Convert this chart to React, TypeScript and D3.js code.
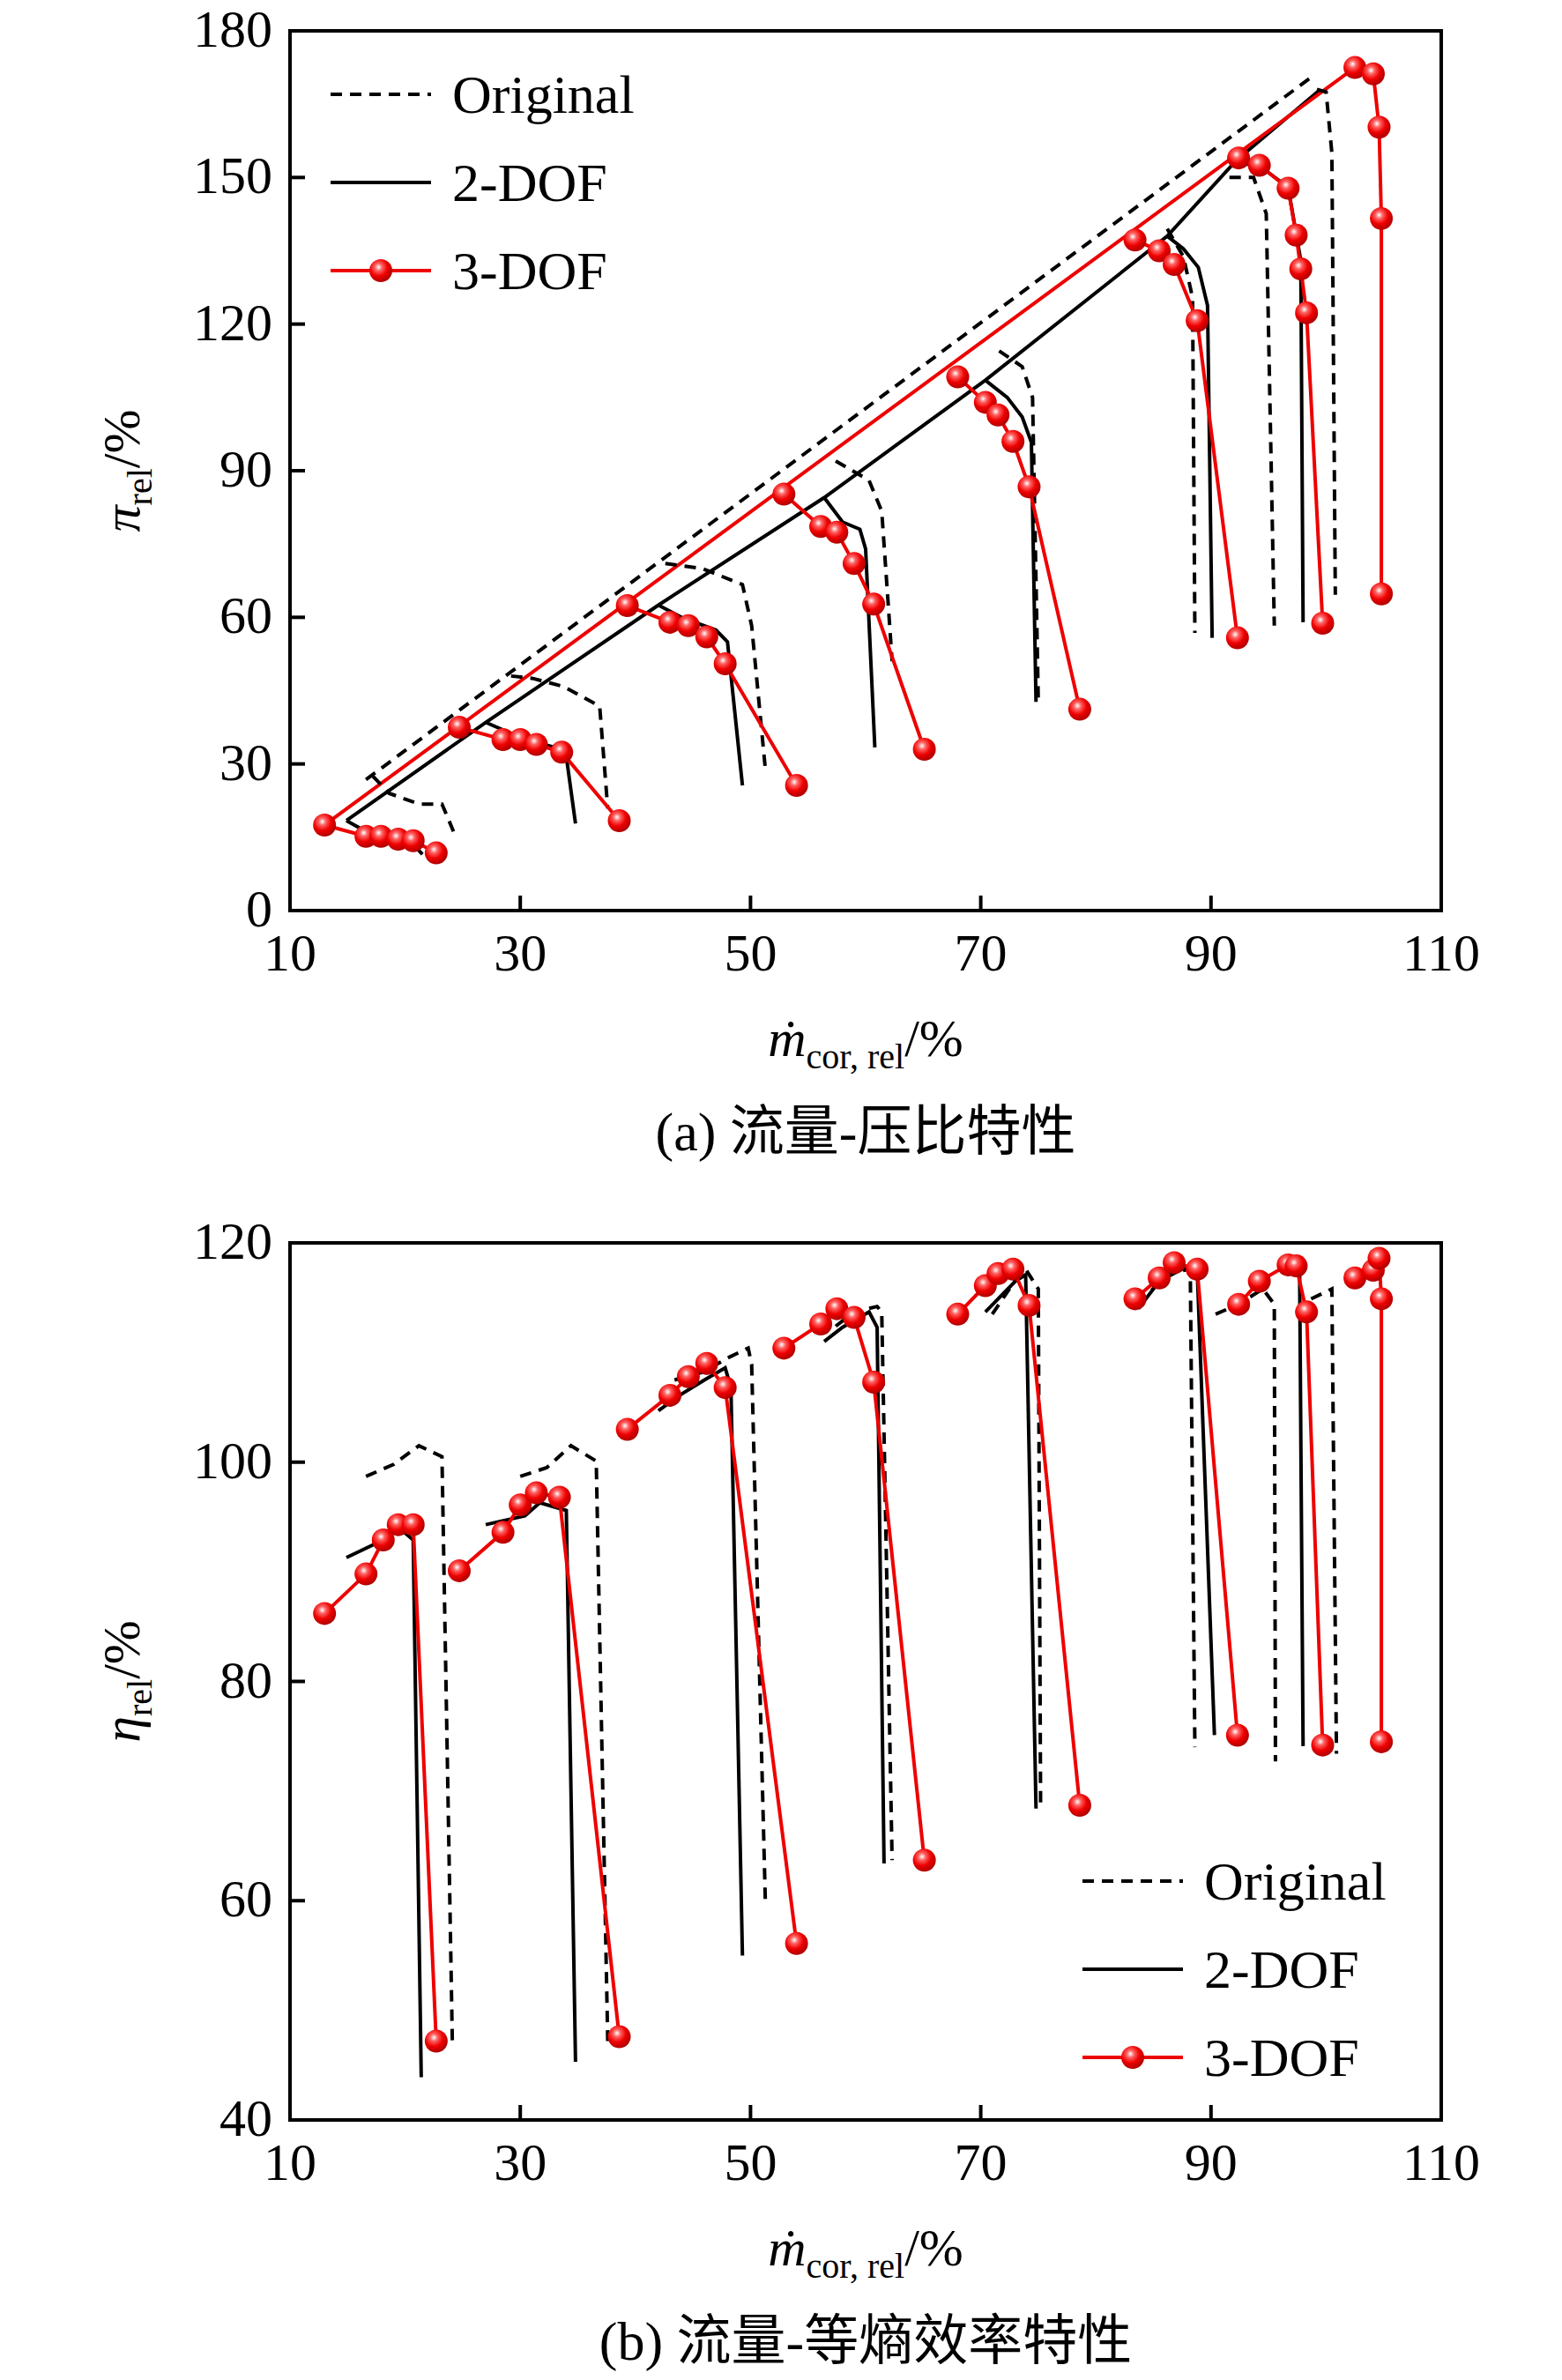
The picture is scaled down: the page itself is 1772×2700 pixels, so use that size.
import * as d3 from "d3";

type P = [number, number];

// Panel (a): mass flow vs pressure ratio, one array per speed line
const origA: P[][] = [
  [[17.2, 27.5], [18.6, 24], [21.2, 21.8], [23.2, 21.8], [24.2, 16.2]],
  [[29.2, 48], [31.1, 47.5], [33.8, 45.8], [36.9, 41.8], [37.6, 20.9]],
  [[42.6, 71], [45.8, 70], [49.3, 66.7], [50.1, 58.3], [51.3, 28.7]],
  [[57.4, 92], [60.3, 88], [61.4, 81.7], [62, 61.4], [62.3, 51]],
  [[71.6, 114.5], [73.6, 111.3], [74.5, 105], [75, 42.7]],
  [[86.2, 139.5], [87.6, 133.8], [88.4, 125.4], [88.6, 56.8]],
  [[91.6, 150], [93.7, 150], [94.8, 142.6], [95.5, 58.3]],
  [[99.2, 168], [100, 167.5], [100.5, 155], [100.8, 64.6]],
];
const origSurge: P[] = [[16.6, 26.8], [98.7, 170.5]];
const dof2A: P[][] = [
  [[14.9, 18.4], [17.5, 15], [20.5, 14], [21.5, 11.5]],
  [[27, 38.5], [30.4, 35], [33, 33.4], [34, 31.5], [34.8, 17.8]],
  [[42, 62.5], [44, 60], [47, 57.4], [48, 55], [49.3, 25.6]],
  [[56.4, 84.5], [58, 79.5], [59.5, 78], [60, 74], [60.8, 33.4]],
  [[70.4, 108.5], [72.3, 105], [73.6, 101], [74.4, 95.8], [74.8, 42.7]],
  [[86.2, 138], [87.6, 135.4], [88.9, 131.6], [89.7, 123.8], [90.1, 55.8]],
  [[92.2, 153.5], [94.7, 151.5], [96.7, 148], [97.8, 133], [98, 59]],
];
const dof2Surge: P[] = [
  [14.9, 18.4], [27, 38.5], [42, 62.5], [56.4, 84.5], [70.4, 108.5], [86.2, 138], [92.2, 153.5], [99.5, 168],
];
const dof3A: P[][] = [
  [[13, 17.5], [16.6, 15.2], [17.9, 15.2], [19.4, 14.6], [20.7, 14.3], [22.7, 11.8]],
  [[24.7, 37.5], [28.5, 35], [30, 35], [31.4, 34], [33.6, 32.4], [38.6, 18.4]],
  [[39.3, 62.4], [43, 59], [44.6, 58.3], [46.2, 56], [47.8, 50.5], [54, 25.6]],
  [[52.9, 85.2], [56.1, 78.6], [57.5, 77.4], [59, 71], [60.7, 62.7], [65.1, 33]],
  [[68, 109.2], [70.4, 104], [71.5, 101.4], [72.8, 96], [74.2, 86.7], [78.6, 41.2]],
  [[83.4, 137.2], [85.5, 135], [86.8, 132.2], [88.8, 120.7], [92.3, 55.8]],
  [[92.4, 154], [94.2, 152.5], [96.7, 147.8], [97.4, 138.2], [97.8, 131.3], [98.3, 122.3], [99.7, 58.8]],
  [[102.5, 172.5], [104.1, 171.2], [104.6, 160.3], [104.8, 141.6], [104.8, 64.8]],
];

// Panel (b): mass flow vs isentropic efficiency
const origB: P[][] = [
  [[16.6, 98.7], [19, 99.8], [21.2, 101.5], [23.2, 100.5], [24.1, 47.2]],
  [[30, 98.7], [32.3, 99.5], [34.4, 101.5], [36.6, 100.1], [37.6, 47.2]],
  [[43.4, 107.5], [45.8, 108.2], [48.2, 109.6], [49.8, 110.4], [50.1, 108.9], [51.3, 59.5]],
  [[57.4, 112.4], [59, 113.7], [61, 114.2], [61.4, 113.7], [62.3, 63.7]],
  [[71, 113.5], [73.4, 117.2], [73.9, 117.6], [75, 115.8], [75.2, 68.4]],
  [[83.7, 114.4], [86.2, 117.2], [88.2, 117.6], [88.6, 74]],
  [[90.4, 113.5], [92.4, 114.4], [94.5, 115.8], [95.5, 114.4], [95.6, 72.7]],
  [[98.7, 114.9], [100.5, 115.8], [100.9, 73.4]],
];
const dof2B: P[][] = [
  [[14.9, 91.3], [17.5, 92.6], [19.5, 94], [20.7, 92.9], [21.4, 43.9]],
  [[27, 94.3], [30.4, 95.1], [31.7, 96.3], [34, 95.6], [34.8, 45.3]],
  [[42, 104.7], [44, 106.2], [46, 107.5], [47.8, 108.6], [48.3, 106.8], [49.3, 55]],
  [[56.4, 111], [58, 112.3], [60.3, 113.7], [61, 112.3], [61.6, 63.4]],
  [[70.4, 113.7], [73, 116.5], [73.9, 117.1], [74.8, 68.4]],
  [[83.7, 114], [85.5, 116.5], [87.5, 117.6], [88.8, 117.6], [90.3, 75.1]],
  [[96.7, 117.6], [97.7, 117.2], [98, 74.1]],
];
const dof3B: P[][] = [
  [[13, 86.2], [16.6, 89.8], [18.1, 92.9], [19.4, 94.3], [20.7, 94.3], [22.7, 47.2]],
  [[24.7, 90.1], [28.5, 93.6], [30, 96.1], [31.4, 97.2], [33.4, 96.8], [38.6, 47.6]],
  [[39.3, 103], [43, 106.1], [44.6, 107.8], [46.2, 109], [47.8, 106.8], [54, 56.1]],
  [[52.9, 110.4], [56.1, 112.6], [57.5, 114], [59, 113.2], [60.7, 107.3], [65.1, 63.7]],
  [[68, 113.5], [70.4, 116.1], [71.5, 117.2], [72.8, 117.6], [74.2, 114.3], [78.6, 68.7]],
  [[83.4, 114.9], [85.5, 116.8], [86.8, 118.2], [88.8, 117.6], [92.3, 75.1]],
  [[92.4, 114.4], [94.2, 116.5], [96.7, 118], [97.4, 117.9], [98.3, 113.7], [99.7, 74.2]],
  [[102.5, 116.8], [104.1, 117.5], [104.6, 118.6], [104.8, 114.9], [104.8, 74.5]],
];

const xTicks = [10, 30, 50, 70, 90, 110];
const yTicksA = [0, 30, 60, 90, 120, 150, 180];
const yTicksB = [40, 60, 80, 100, 120];
const legendNames = ["Original", "2-DOF", "3-DOF"];

const W = 1772;
const H = 2700;
const X0 = 329;
const X1 = 1635;
const serif = "'Liberation Serif', 'Times New Roman', serif";
const cjk = "'Liberation Serif', 'Noto Sans CJK SC', serif";
const RED = "#ee0000";
const DASH = "13,9";

const x = d3.scaleLinear().domain([10, 110]).range([X0, X1]);
const line = d3.line<P>();

function Marker({ cx, cy }: { cx: number; cy: number }) {
  return <circle cx={cx} cy={cy} r={13} fill="url(#ball)" />;
}

function Panel({
  top, bottom, yDomain, yTicks, orig, dof2, dof3, surge, yLabel, legendAt, caption,
}: {
  top: number; bottom: number; yDomain: [number, number]; yTicks: number[];
  orig: P[][]; dof2: P[][]; dof3: P[][]; surge: boolean;
  yLabel: string; legendAt: [number, number]; caption: string;
}) {
  const y = d3.scaleLinear().domain(yDomain).range([bottom, top]);
  const pt = (p: P): P => [x(p[0]), y(p[1])];
  const path = (d: P[]) => line(d.map(pt)) ?? "";
  return (
    <g>
      {surge && (
        <>
          <path d={path(origSurge)} fill="none" stroke="#000" strokeWidth={4} strokeDasharray={DASH} />
          <path d={path(dof2Surge)} fill="none" stroke="#000" strokeWidth={4} />
          <path d={path([dof3[0][0], dof3[dof3.length - 1][0]])} fill="none" stroke={RED} strokeWidth={4} />
        </>
      )}
      {orig.map((l, i) => (
        <path key={"o" + i} d={path(l)} fill="none" stroke="#000" strokeWidth={4} strokeDasharray={DASH} />
      ))}
      {dof2.map((l, i) => (
        <path key={"t" + i} d={path(l)} fill="none" stroke="#000" strokeWidth={4} />
      ))}
      {dof3.map((l, i) => (
        <g key={"r" + i}>
          <path d={path(l)} fill="none" stroke={RED} strokeWidth={4} />
          {l.map((p, j) => {
            const [cx, cy] = pt(p);
            return <Marker key={j} cx={cx} cy={cy} />;
          })}
        </g>
      ))}
      <rect x={X0} y={top} width={X1 - X0} height={bottom - top} fill="none" stroke="#000" strokeWidth={4} />
      {xTicks.map((t) => (
        <g key={"x" + t}>
          <line x1={x(t)} x2={x(t)} y1={bottom} y2={bottom - 17} stroke="#000" strokeWidth={4} />
          <text x={x(t)} y={bottom + 68} textAnchor="middle" fontSize={60} fontFamily={serif}>{t}</text>
        </g>
      ))}
      {yTicks.map((t) => (
        <g key={"y" + t}>
          <line x1={X0} x2={X0 + 17} y1={y(t)} y2={y(t)} stroke="#000" strokeWidth={4} />
          <text x={X0 - 20} y={y(t) + 18} textAnchor="end" fontSize={60} fontFamily={serif}>{t}</text>
        </g>
      ))}
      <text transform={`translate(158,${(top + bottom) / 2}) rotate(-90)`} textAnchor="middle" fontSize={60} fontFamily={serif}>
        <tspan fontStyle="italic">{yLabel}</tspan>
        <tspan fontSize={40} dy={14}>rel</tspan>
        <tspan dy={-14}>/%</tspan>
      </text>
      <text x={(X0 + X1) / 2} y={bottom + 165} textAnchor="middle" fontSize={60} fontFamily={serif}>
        <tspan fontStyle="italic">ṁ</tspan>
        <tspan fontSize={40} dy={14}>cor, rel</tspan>
        <tspan dy={-14}>/%</tspan>
      </text>
      <text x={(X0 + X1) / 2} y={bottom + 272} textAnchor="middle" fontSize={62} fontFamily={cjk}>{caption}</text>
      {legendNames.map((n, i) => {
        const lx = legendAt[0];
        const ly = legendAt[1] + i * 100;
        return (
          <g key={n}>
            <line x1={lx} x2={lx + 114} y1={ly} y2={ly} stroke={i === 2 ? RED : "#000"} strokeWidth={4}
              strokeDasharray={i === 0 ? DASH : undefined} />
            {i === 2 && <Marker cx={lx + 57} cy={ly} />}
            <text x={lx + 138} y={ly + 21} fontSize={62} fontFamily={serif}>{n}</text>
          </g>
        );
      })}
    </g>
  );
}

export default function App() {
  return (
    <svg width={W} height={H} style={{ position: "absolute", left: 0, top: 0, background: "#fff" }}>
      <defs>
        <radialGradient id="ball" cx="0.4" cy="0.35" r="0.65">
          <stop offset="0" stopColor="#fff" />
          <stop offset="0.25" stopColor="#ff6060" />
          <stop offset="0.6" stopColor="#ee0000" />
          <stop offset="1" stopColor="#b00000" />
        </radialGradient>
      </defs>
      <Panel top={35} bottom={1033} yDomain={[0, 180]} yTicks={yTicksA} orig={origA} dof2={dof2A} dof3={dof3A}
        surge={true} yLabel="π" legendAt={[375, 107]} caption="(a) 流量-压比特性" />
      <Panel top={1410} bottom={2405} yDomain={[40, 120]} yTicks={yTicksB} orig={origB} dof2={dof2B} dof3={dof3B}
        surge={false} yLabel="η" legendAt={[1228, 2134]} caption="(b) 流量-等熵效率特性" />
    </svg>
  );
}
